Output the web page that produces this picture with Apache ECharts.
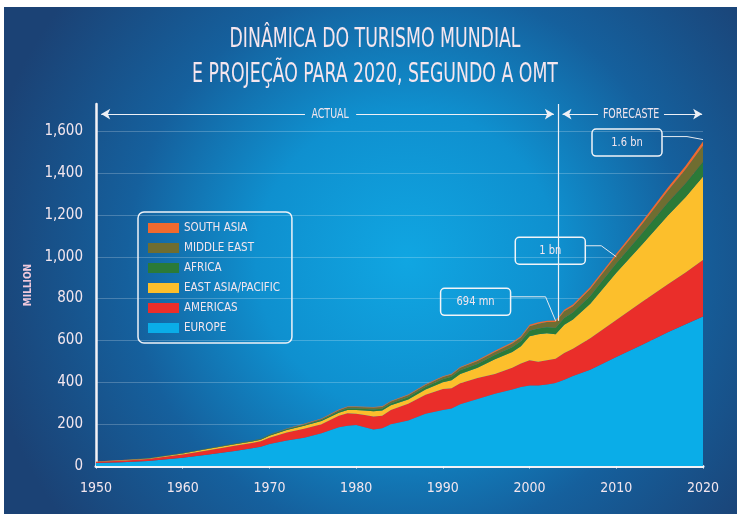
<!DOCTYPE html>
<html>
<head>
<meta charset="utf-8">
<title>Dinâmica do turismo mundial</title>
<script src="https://cdn.jsdelivr.net/npm/echarts@6/dist/echarts.min.js"></script>
<style>
  html, body { margin: 0; padding: 0; background: #fff; }
  #main { width: 737px; height: 518px; }
</style>
</head>
<body>
<div id="main"></div>
<script>
const years = [1950, 1953, 1956, 1960, 1963, 1966, 1968, 1969, 1970, 1972, 1974, 1976, 1978, 1979, 1980, 1981, 1982, 1983, 1984, 1986, 1988, 1990, 1991, 1992, 1994, 1996, 1998, 1999, 2000, 2001, 2002, 2003, 2004, 2005, 2007, 2010, 2013, 2016, 2018, 2020]

// chegadas por região, em milhões (valores estimados a partir da imagem)
const europe = [14, 18, 24, 40, 55, 72, 85, 92, 105, 122, 135, 156, 185, 192, 196, 185, 175, 180, 200, 218, 250, 268, 275, 295, 320, 345, 365, 378, 385, 385, 390, 397, 412, 430, 460, 521, 580, 640, 678, 715]
const americas = [6, 7, 9, 15, 20, 25, 25, 26, 30, 38, 43, 44, 55, 60, 54, 59, 62, 60, 68, 80, 90, 100, 97, 100, 100, 95, 105, 112, 120, 113, 115, 115, 128, 130, 150, 177, 205, 230, 247, 270]
const eastAsia = [1, 2, 3, 5, 7, 7, 7, 7, 10, 12, 14, 15, 15, 16, 18, 21, 25, 25, 22, 20, 25, 32, 38, 45, 50, 70, 75, 82, 115, 132, 130, 118, 135, 140, 165, 225, 275, 330, 360, 398]
const africa = [0.5, 0.7, 0.9, 1, 1.5, 2, 2.5, 2.8, 3, 3.5, 4, 5, 6, 6.5, 7, 7.5, 8, 8.5, 9, 10, 12, 15, 16, 17, 18, 20, 23, 24, 26, 27, 28, 30, 32, 34, 38, 45, 52, 60, 65, 70]
const middleEast = [0.2, 0.3, 0.5, 0.6, 1, 1.5, 2, 2, 2, 3, 4, 5, 6, 7, 7, 8, 9, 9, 9, 10, 10, 10, 11, 12, 14, 15, 17, 18, 22, 23, 25, 28, 32, 30, 33, 35, 45, 58, 68, 78]
const southAsia = [0.1, 0.1, 0.2, 0.3, 0.5, 0.6, 0.7, 0.8, 1, 1.2, 1.5, 2, 2.5, 2.6, 2.8, 3, 3, 3, 3, 3.5, 4, 4, 4.2, 4.5, 5, 5.5, 6, 6.2, 6.5, 6.5, 6.5, 7, 8, 8, 9, 11, 13, 15, 17, 20]

const regionNames = ['EUROPE', 'AMERICAS', 'EAST ASIA/PACIFIC', 'AFRICA', 'MIDDLE EAST', 'SOUTH ASIA']
const regionColors = ['#0aade8', '#ea2e2a', '#fcbf2c', '#2b7a38', '#6f6d31', '#ef6a2e']

// marcações: fim do período real e as setas ACTUAL / FORECASTE
const dividerYear = 2003.3
const dividerValue = 694
const spanValue = 1682
const actualSpan = [1950.6, 2002.8]
const forecastSpan = [2003.8, 2019.9]

// caixas de destaque
const calloutYears = [2003, 2010, 2020]
const calloutValues = [694, 1000, 1560]
const calloutTexts = ['694 mn', '1 bn', '1.6 bn']

const FONT = "'Liberation Sans Narrow', 'DejaVu Sans Condensed', sans-serif"
const TXT = '#f3e6ee'

const chart = echarts.init(document.getElementById('main'), null, { renderer: 'canvas' })

const regionData = [europe, americas, eastAsia, africa, middleEast, southAsia]
// valor na 1a coluna: o empilhamento do echarts usa a primeira dimensão numérica
const series = regionNames.map((name, i) => ({
  name: name,
  type: 'line',
  stack: 'total',
  symbol: 'none',
  encode: { x: 1, y: 0 },
  lineStyle: { width: 0 },
  itemStyle: { color: regionColors[i] },
  areaStyle: { color: regionColors[i], opacity: 1 },
  data: years.map((y, j) => [regionData[i][j], y])
}))

// setas e linha divisória em coordenadas dos dados
series[0].markLine = {
  silent: true,
  animation: false,
  label: { show: false },
  lineStyle: { color: '#eef0f6', width: 1.2, type: 'solid' },
  symbolSize: [8, 9],
  data: [
    [{ coord: [dividerYear, dividerValue], symbol: 'none' }, { coord: [dividerYear, 1730], symbol: 'none' }],
    [{ coord: [actualSpan[0], spanValue], symbol: 'arrow' }, { coord: [1974.1, spanValue], symbol: 'none' }],
    [{ coord: [1980.0, spanValue], symbol: 'none' }, { coord: [actualSpan[1], spanValue], symbol: 'arrow' }],
    [{ coord: [forecastSpan[0], spanValue], symbol: 'arrow' }, { coord: [2007.9, spanValue], symbol: 'none' }],
    [{ coord: [2015.5, spanValue], symbol: 'none' }, { coord: [forecastSpan[1], spanValue], symbol: 'arrow' }]
  ]
}

chart.setOption({
  animation: false,
  backgroundColor: '#ffffff',
  grid: { left: 96, right: 34, top: 104, bottom: 52 },
  legend: {
    orient: 'vertical',
    left: 138,
    top: 212,
    padding: [10, 12, 9, 10],
    itemWidth: 31,
    itemHeight: 10,
    itemGap: 8,
    icon: 'rect',
    borderColor: '#eef2f8',
    borderWidth: 1.5,
    borderRadius: 6,
    data: ['SOUTH ASIA', 'MIDDLE EAST', 'AFRICA', 'EAST ASIA/PACIFIC', 'AMERICAS', 'EUROPE'],
    textStyle: { color: TXT, fontFamily: FONT, fontSize: 11.5 }
  },
  xAxis: {
    type: 'value',
    min: 1950,
    max: 2020,
    interval: 10,
    axisLine: { show: true, lineStyle: { color: '#f4f2f6', width: 3 } },
    axisTick: { show: true, length: 3, lineStyle: { color: 'rgba(255,255,255,0.5)' } },
    axisLabel: { color: TXT, fontFamily: FONT, fontSize: 14, margin: 15, formatter: v => String(v) },
    splitLine: { show: false }
  },
  yAxis: {
    type: 'value',
    min: 0,
    max: 1730,
    interval: 200,
    name: 'MILLION',
    nameLocation: 'middle',
    nameRotate: 90,
    nameGap: 49,
    nameTextStyle: { color: '#efc9dc', fontFamily: FONT, fontSize: 10, fontWeight: 'bold' },
    axisLine: { show: true, lineStyle: { color: '#f4f2f6', width: 2.5 } },
    axisTick: { show: false },
    axisLabel: {
      color: TXT, fontFamily: FONT, fontSize: 15, margin: 13, showMaxLabel: false,
      formatter: v => String(v).replace(/\B(?=(\d{3})+(?!\d))/g, ',')
    },
    splitLine: { show: true, showMaxLine: false, lineStyle: { color: 'rgba(255,255,255,0.22)', width: 1 } }
  },
  series: series
})

// fundo, título, rótulos das setas e caixas de destaque
const els = []
els.push({
  type: 'rect', z: -100, silent: true,
  shape: { x: 4, y: 7, width: 733, height: 507 },
  style: {
    fill: new echarts.graphic.RadialGradient(0.55, 0.5, 0.85, [
      { offset: 0, color: '#10a6e2' },
      { offset: 0.35, color: '#0f90cf' },
      { offset: 0.65, color: '#15609d' },
      { offset: 1, color: '#1b4275' }
    ])
  }
})
const titleLines = ['DINÂMICA DO TURISMO MUNDIAL', 'E PROJEÇÃO PARA 2020, SEGUNDO A OMT']
titleLines.forEach((t, i) => {
  els.push({
    type: 'text', x: 375, y: 40 + i * 35, scaleX: 0.74, silent: true,
    style: { text: t, fill: '#f6e6ee', font: '26px ' + FONT, align: 'center', verticalAlign: 'middle' }
  })
})

const spanLabels = [['ACTUAL', 1977.0], ['FORECASTE', 2011.7]]
spanLabels.forEach(([t, yr]) => {
  const p = chart.convertToPixel({ gridIndex: 0 }, [yr, spanValue])
  els.push({
    type: 'text', x: p[0], y: p[1], scaleX: 0.75, silent: true,
    style: { text: t, fill: TXT, font: '14px ' + FONT, align: 'center', verticalAlign: 'middle' }
  })
})

// deslocamentos das caixas em relação ao ponto (centro da caixa e cotovelo da linha)
const calloutLayout = [
  { bx: -80, by: -19, ex: -10, ey: -24 },
  { bx: -66, by: -6, ex: -15, ey: -11 },
  { bx: -76, by: 3, ex: -16, ey: -3 }
]
calloutYears.forEach((yr, i) => {
  const p = chart.convertToPixel({ gridIndex: 0 }, [yr, calloutValues[i]])
  const l = calloutLayout[i]
  const cx = p[0] + l.bx
  const cy = p[1] + l.by
  const ly = p[1] + l.ey
  els.push({
    type: 'rect', silent: true, z: 10,
    shape: { x: cx - 35, y: cy - 13.5, width: 70, height: 27, r: 4 },
    style: { fill: 'transparent', stroke: '#f1f4f8', lineWidth: 1.5 }
  })
  els.push({
    type: 'text', x: cx, y: cy, scaleX: 0.85, silent: true, z: 10,
    style: { text: calloutTexts[i], fill: TXT, font: '13px ' + FONT, align: 'center', verticalAlign: 'middle' }
  })
  els.push({
    type: 'polyline', silent: true, z: 10,
    shape: { points: [[cx + 35, ly], [p[0] + l.ex, ly], [p[0], p[1]]] },
    style: { stroke: '#e6eaf0', lineWidth: 1, fill: null }
  })
})

chart.setOption({ graphic: { elements: els } })
</script>
</body>
</html>
